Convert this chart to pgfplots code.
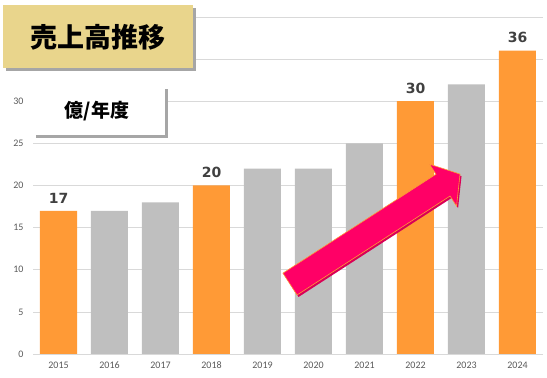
\documentclass[border=0pt]{standalone}
\usepackage{fontspec}
\setmainfont{Carlito}
\newfontfamily\cjk{Noto Sans CJK JP}
\newfontfamily\dvs{DejaVu Sans}
\usepackage{pgfplots}
\pgfplotsset{compat=1.18}
\usetikzlibrary{calc}
\definecolor{org}{HTML}{FF9A36}
\definecolor{gry}{HTML}{BFBFBF}
\definecolor{gridc}{HTML}{D9D9D9}
\definecolor{tickc}{HTML}{595959}
\definecolor{lab}{HTML}{404040}
\definecolor{ttl}{HTML}{E9D58C}
\definecolor{pink}{HTML}{FF0066}
\definecolor{shad}{HTML}{A6A6A6}
\begin{document}
\begin{tikzpicture}[x=1pt,y=1pt]
\useasboundingbox (0,0) rectangle (547,378);
\begin{axis}[
  at={(33pt,24pt)}, anchor=south west, scale only axis,
  width=510pt, height=337pt,
  xmin=-0.5, xmax=9.5, ymin=0, ymax=40,
  ytick={0,5,...,40},
  xtick={0,...,9},
  xticklabels={2015,2016,2017,2018,2019,2020,2021,2022,2023,2024},
  /pgf/number format/assume math mode=true,
  ymajorgrids, grid style={draw=gridc, line width=0.7pt},
  axis x line=bottom, axis y line=left,
  x axis line style={draw=gridc, line width=0.8pt, -},
  y axis line style={draw=none},
  major tick length=0pt,
  tick label style={font=\fontsize{10}{10}\selectfont, text=tickc},
  yticklabel style={xshift=-6pt},
  xticklabel style={yshift=-4pt},
  ybar, bar width=37pt,
]
\addplot[fill=gry, draw=none, bar shift=0pt] coordinates {(1,17) (2,18) (4,22) (5,22) (6,25) (8,32)};
\addplot[fill=org, draw=none, bar shift=0pt, nodes near coords,
  every node near coord/.append style={font=\dvs\bfseries\fontsize{14}{14}\selectfont, text=lab, anchor=south, yshift=4pt}]
  coordinates {(0,17) (3,20) (7,30) (9,36)};
\coordinate (T) at (axis cs:4.539,8.30);
\coordinate (P) at (axis cs:7.873,21.35);
\end{axis}
% arrow
\coordinate (N) at ($(T)!0.9!(P)$);
\fill[pink!85!black]
  ($(T)!13pt!90:(P)+(1.5,-2)$) -- ($(N)!13pt!90:(P)+(1.5,-2)$) -- ($(N)!25pt!90:(P)+(1.5,-2)$) -- ($(P)+(1.5,-2)$)
  -- ($(N)!25pt!-90:(P)+(1.5,-2)$) -- ($(N)!13pt!-90:(P)+(1.5,-2)$) -- ($(T)!13pt!-90:(P)+(1.5,-2)$) -- cycle;
\filldraw[fill=pink, draw=org, line width=0.6pt]
  ($(T)!13pt!90:(P)$) -- ($(N)!13pt!90:(P)$) -- ($(N)!25pt!90:(P)$) -- (P)
  -- ($(N)!25pt!-90:(P)$) -- ($(N)!13pt!-90:(P)$) -- ($(T)!13pt!-90:(P)$) -- cycle;
% title box
\fill[shad] (6,307) rectangle (196,370);
\fill[ttl] (3,310) rectangle (193,373);
\node at (98,341) {\cjk\bfseries\fontsize{27}{27}\selectfont 売上高推移};
% unit box
\fill[shad] (36,240) rectangle (168,289);
\fill[white] (33,243) rectangle (165,292);
\node at (97,267) {\cjk\bfseries\fontsize{19}{19}\selectfont 億/年度};
\end{tikzpicture}
\end{document}
